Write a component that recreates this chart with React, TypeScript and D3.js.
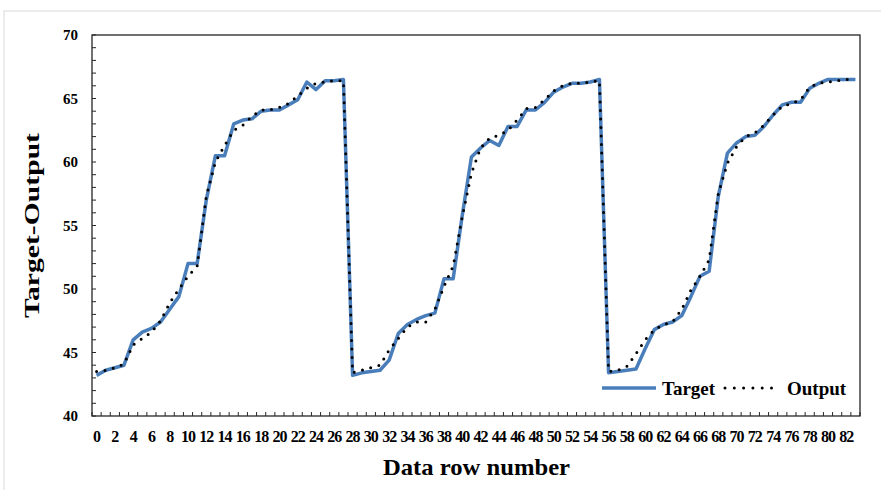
import {useEffect, useRef} from "react";
import * as d3 from "d3";

const rows = d3.range(0, 84);
const target = [43.2, 43.6, 43.8, 44.0, 46.0, 46.6, 46.9, 47.4, 48.4, 49.4, 52.0, 52.0, 57.0, 60.5, 60.5, 63.0, 63.3, 63.4, 64.0, 64.1, 64.1, 64.5, 64.9, 66.3, 65.7, 66.4, 66.4, 66.5,
    43.2, 43.4, 43.5, 43.6, 44.4, 46.5, 47.2, 47.6, 47.9, 48.1, 50.8, 50.8, 55.8, 60.4, 61.1, 61.7, 61.3, 62.8, 62.8, 64.1, 64.1, 64.7, 65.5, 65.9, 66.2, 66.2, 66.3, 66.5,
    43.4, 43.5, 43.6, 43.7, 45.3, 46.8, 47.2, 47.4, 47.9, 49.4, 51.0, 51.4, 57.3, 60.7, 61.5, 62.0, 62.1, 62.8, 63.7, 64.5, 64.7, 64.7, 65.8, 66.2, 66.5, 66.5, 66.5, 66.5];
const output = [43.5, 43.6, 43.8, 44.1, 45.6, 46.1, 46.6, 47.5, 48.9, 50.0, 51.0, 51.8, 57.3, 60.0, 61.3, 62.5, 62.9, 63.6, 64.1, 64.1, 64.3, 64.6, 65.2, 65.8, 66.2, 66.3, 66.4, 66.4,
    43.4, 43.6, 43.8, 44.0, 45.2, 46.1, 47.0, 47.4, 47.4, 48.4, 50.2, 51.8, 55.7, 59.1, 61.1, 61.9, 62.1, 62.5, 63.3, 64.2, 64.3, 64.9, 65.6, 66.0, 66.2, 66.2, 66.3, 66.4,
    43.5, 43.6, 43.9, 44.9, 46.0, 46.8, 47.2, 47.4, 48.4, 49.9, 51.0, 52.3, 57.5, 59.9, 61.2, 62.0, 62.3, 62.9, 63.7, 64.4, 64.6, 64.9, 65.9, 66.2, 66.3, 66.4, 66.5, 66.5];
const yTicks = [40, 45, 50, 55, 60, 65, 70];
const xLabels = rows.filter(d => d % 2 === 0 && d <= 82);

const font = "'Times New Roman', 'Liberation Serif', serif";

const App = () => {
    const ref = useRef<SVGSVGElement>(null);

    useEffect(() => {
        const svg = d3.select(ref.current);
        svg.selectAll("*").remove();

        const left = 92, right = 860, top = 35, bottom = 416;

        // outer frame
        svg.append("rect")
            .attr("x", 4).attr("y", 11).attr("width", 890).attr("height", 500)
            .attr("fill", "#fff").attr("stroke", "#d9d9d9").attr("stroke-width", 1);

        const x = d3.scalePoint<number>().domain(rows).range([left, right]).padding(0.5);
        const y = d3.scaleLinear().domain([40, 70]).range([bottom, top]);
        const step = x.step();

        // plot box
        svg.append("rect")
            .attr("x", left).attr("y", top).attr("width", right - left).attr("height", bottom - top)
            .attr("fill", "none").attr("stroke", "#262626").attr("stroke-width", 1.3);

        // x minor ticks at category boundaries
        svg.append("g").selectAll("line")
            .data(d3.range(0, 85))
            .enter().append("line")
            .attr("x1", d => left + d * step).attr("x2", d => left + d * step)
            .attr("y1", bottom).attr("y2", bottom - 4)
            .attr("stroke", "#262626").attr("stroke-width", 1);

        // y minor ticks
        svg.append("g").selectAll("line")
            .data(d3.range(40, 71))
            .enter().append("line")
            .attr("x1", left).attr("x2", left + 4)
            .attr("y1", d => y(d)).attr("y2", d => y(d))
            .attr("stroke", "#262626").attr("stroke-width", 1);

        // y labels
        svg.append("g").selectAll("text")
            .data(yTicks)
            .enter().append("text")
            .attr("x", 78).attr("y", d => y(d)).attr("dy", "0.35em")
            .attr("text-anchor", "end")
            .style("font-family", font).style("font-size", "15px").style("font-weight", "bold")
            .text(d => d);

        // x labels
        svg.append("g").selectAll("text")
            .data(xLabels)
            .enter().append("text")
            .attr("x", d => x(d)!).attr("y", 442)
            .attr("text-anchor", "middle")
            .style("font-family", font).style("font-size", "16px").style("font-weight", "bold")
            .style("letter-spacing", "-1px")
            .text(d => d);

        const line = d3.line<number>()
            .x((d, i) => x(i)!)
            .y(d => y(d));

        svg.append("path")
            .attr("d", line(target))
            .attr("fill", "none").attr("stroke", "#4a7ebb").attr("stroke-width", 3.5)
            .attr("stroke-linejoin", "round");

        svg.append("path")
            .attr("d", line(output))
            .attr("fill", "none").attr("stroke", "#000").attr("stroke-width", 3)
            .attr("stroke-linecap", "round").attr("stroke-dasharray", "0 8.5");

        // legend
        const lg = svg.append("g");
        lg.append("line")
            .attr("x1", 602).attr("x2", 656).attr("y1", 388).attr("y2", 388)
            .attr("stroke", "#4a7ebb").attr("stroke-width", 3.5);
        lg.append("text")
            .attr("x", 662).attr("y", 388).attr("dy", "0.35em")
            .style("font-family", font).style("font-size", "19px").style("font-weight", "bold")
            .text("Target");
        lg.append("line")
            .attr("x1", 725).attr("x2", 773).attr("y1", 388).attr("y2", 388)
            .attr("stroke", "#000").attr("stroke-width", 3)
            .attr("stroke-linecap", "round").attr("stroke-dasharray", "0 9.3");
        lg.append("text")
            .attr("x", 787).attr("y", 388).attr("dy", "0.35em")
            .style("font-family", font).style("font-size", "19px").style("font-weight", "bold")
            .text("Output");

        // axis titles
        svg.append("text")
            .attr("x", 383).attr("y", 475)
            .attr("textLength", 187).attr("lengthAdjust", "spacingAndGlyphs")
            .style("font-family", font).style("font-size", "23px").style("font-weight", "bold")
            .text("Data row number");
        svg.append("text")
            .attr("transform", "translate(39,318) rotate(-90)")
            .attr("textLength", 185).attr("lengthAdjust", "spacingAndGlyphs")
            .style("font-family", font).style("font-size", "22px").style("font-weight", "bold")
            .text("Target-Output");
    }, []);

    return (
        <svg ref={ref} width={881} height={490}
             style={{position: "absolute", left: 0, top: 0, background: "#fff"}}/>
    );
};

export default App;
